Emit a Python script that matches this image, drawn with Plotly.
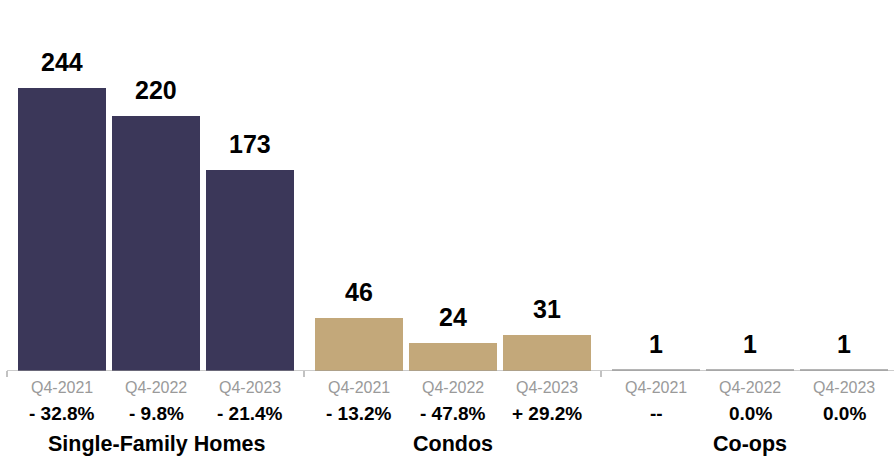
import plotly.graph_objects as go

# Sales counts per property type and quarter
groups = ["Single-Family Homes", "Condos", "Co-ops"]
quarters = ["Q4-2021", "Q4-2022", "Q4-2023"]
sfh_values = [244, 220, 173]
condo_values = [46, 24, 31]
coop_values = [1, 1, 1]
sfh_change = ["- 32.8%", "- 9.8%", "- 21.4%"]
condo_change = ["- 13.2%", "- 47.8%", "+ 29.2%"]
coop_change = ["--", "0.0%", "0.0%"]

series = [
    (sfh_values, sfh_change, "#3b3759"),
    (condo_values, condo_change, "#c3a87a"),
    (coop_values, coop_change, "#b5b5b5"),
]

# Horizontal layout (x axis in pixel-like units)
W, H = 894, 462
GROUP_W = 297
X0 = 7
SLOT = 94
FIRST = 55
BAR_W = 88
BASE_PX = 371
PX_PER_UNIT = 1.16

FONT = "Liberation Sans, Arial, Helvetica, sans-serif"

fig = go.Figure()
annotations = []
shapes = []

for g, (vals, changes, color) in enumerate(series):
    xs = [X0 + GROUP_W * g + FIRST + SLOT * s for s in range(len(vals))]
    fig.add_trace(go.Bar(
        x=xs, y=vals, width=BAR_W, marker=dict(color=color, line=dict(width=0)),
        hoverinfo="skip", showlegend=False,
    ))
    for x, v, q, c in zip(xs, vals, quarters, changes):
        annotations.append(dict(x=x, y=v, xref="x", yref="y", text=f"<b>{v}</b>",
                                showarrow=False, yanchor="middle", yshift=26,
                                font=dict(family=FONT, size=25, color="#000000")))
        annotations.append(dict(x=x, y=0, xref="x", yref="y", text=q,
                                showarrow=False, yanchor="middle", yshift=-16,
                                font=dict(family=FONT, size=16, color="#9a9a9a")))
        annotations.append(dict(x=x, y=0, xref="x", yref="y", text=f"<b>{c}</b>",
                                showarrow=False, yanchor="middle", yshift=-42,
                                font=dict(family=FONT, size=19, color="#000000")))
    annotations.append(dict(x=xs[1], y=0, xref="x", yref="y", text=f"<b>{groups[g]}</b>",
                            showarrow=False, yanchor="middle", yshift=-73,
                            font=dict(family=FONT, size=21.5, color="#000000")))

# Baseline and group separator ticks
shapes.append(dict(type="line", xref="x", yref="y", x0=X0, x1=W + 10, y0=0, y1=0,
                   line=dict(color="#999999", width=1.2)))
for g in range(len(groups)):
    bx = X0 + GROUP_W * g
    shapes.append(dict(type="line", xref="x", yref="paper", x0=bx, x1=bx,
                       y0=-6, y1=0, ysizemode="pixel", yanchor=0,
                       line=dict(color="#999999", width=1.2)))

fig.update_layout(
    width=W, height=H,
    margin=dict(l=0, r=0, t=0, b=H - BASE_PX, pad=0),
    paper_bgcolor="white", plot_bgcolor="white",
    xaxis=dict(range=[0, W], visible=False, fixedrange=True),
    yaxis=dict(range=[0, BASE_PX / PX_PER_UNIT], visible=False, fixedrange=True),
    annotations=annotations, shapes=shapes, bargap=0,
)

fig.write_html("out.html", config={"displayModeBar": False})
